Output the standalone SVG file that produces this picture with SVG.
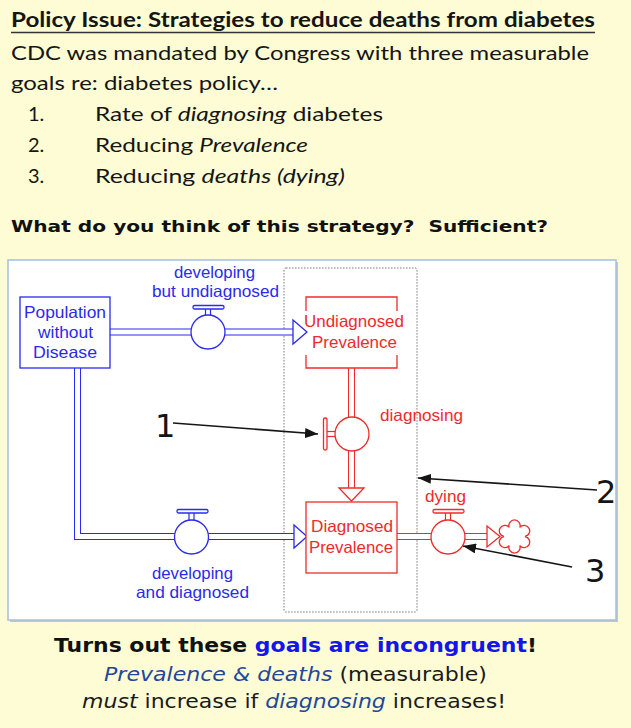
<svg xmlns="http://www.w3.org/2000/svg" width="631" height="728" viewBox="0 0 631 728">
<style>
.hdr{font-family:Lato,"Open Sans","Liberation Sans",sans-serif;fill:#151515}
.vb{font-family:"DejaVu Sans",Verdana,sans-serif}
.lbl{font-family:"Liberation Sans",Arial,sans-serif;font-size:16.5px}
.blue{fill:#2a2af0}
.red{fill:#f02a2a}
.bs{stroke:#2a2af0;fill:#fff;stroke-width:1.3}
.rs{stroke:#f02a2a;fill:#fff;stroke-width:1.3}
.pipeB{fill:none;stroke:#2a2af0;stroke-width:7}
.pipeR{fill:none;stroke:#f02a2a;stroke-width:7}
.pipeIn{fill:none;stroke:#fff;stroke-width:5}
.ann{stroke:#151515;stroke-width:1.6;fill:none}
.num{font-family:"DejaVu Sans",sans-serif;font-size:32px;fill:#151515}
</style>
<defs>
<marker id="ah" markerUnits="userSpaceOnUse" markerWidth="14" markerHeight="10" refX="13" refY="5" orient="auto">
<path d="M0,0 L13,5 L0,10 z" fill="#151515"/>
</marker>
</defs>
<rect x="0" y="0" width="631" height="728" fill="#fdfcd4"/>

<g id="header">
<text class="hdr" x="11" y="27" font-size="20" font-weight="bold" textLength="584" lengthAdjust="spacingAndGlyphs">Policy Issue: Strategies to reduce deaths from diabetes</text>
<line x1="11" y1="32.5" x2="595" y2="32.5" stroke="#333" stroke-width="1.3"/>
<text class="hdr" x="11" y="60" font-size="20" textLength="578" lengthAdjust="spacingAndGlyphs">CDC was mandated by Congress with three measurable</text>
<text class="hdr" x="11" y="90" font-size="20" textLength="267" lengthAdjust="spacingAndGlyphs">goals re: diabetes policy…</text>
<text class="hdr" x="28" y="121" font-size="20">1.</text>
<text class="hdr" x="95" y="121" font-size="20" textLength="288" lengthAdjust="spacingAndGlyphs">Rate of <tspan font-style="italic">diagnosing</tspan> diabetes</text>
<text class="hdr" x="28" y="152" font-size="20">2.</text>
<text class="hdr" x="95" y="152" font-size="20" textLength="213" lengthAdjust="spacingAndGlyphs">Reducing <tspan font-style="italic">Prevalence</tspan></text>
<text class="hdr" x="28" y="183" font-size="20">3.</text>
<text class="hdr" x="95" y="183" font-size="20" textLength="250" lengthAdjust="spacingAndGlyphs">Reducing <tspan font-style="italic">deaths (dying)</tspan></text>
<text class="vb" x="11" y="232" font-size="16.5" font-weight="bold" fill="#111" textLength="537" lengthAdjust="spacingAndGlyphs" xml:space="preserve">What do you think of this strategy?  Sufficient?</text>
</g>

<g id="panel">
<rect x="10" y="262" width="608" height="360" fill="#c9c9b4"/>
<rect x="8" y="260" width="608" height="360" fill="#fff" stroke="#a3c0e2" stroke-width="1.5"/>
<rect id="boundary" x="284" y="268" width="133" height="344" rx="2" fill="none" stroke="#777" stroke-width="1" stroke-dasharray="1.5 1.5"/>
</g>

<g id="connectors">
<path class="pipeB" d="M110,332 H293"/>
<path class="pipeIn" d="M110,332 H293"/>
<path class="pipeB" d="M77.5,368 V536.5 H294"/>
<path class="pipeIn" d="M77.5,368 V536.5 H294"/>
<path class="pipeR" d="M351.5,368 V488"/>
<path class="pipeIn" d="M351.5,368 V488"/>
<path class="pipeR" d="M397,536.5 H487"/>
<path class="pipeIn" d="M397,536.5 H487"/>
<polygon class="bs" points="293,320 307,332 293,344"/>
<polygon class="bs" points="294,525 307,536.5 294,548"/>
<polygon class="rs" points="339,488 364,488 351.5,501"/>
<polygon class="rs" points="487,526 500,536.5 487,547"/>
<line class="ann" x1="173" y1="423" x2="318" y2="434" marker-end="url(#ah)"/>
<line class="ann" x1="597" y1="490" x2="418" y2="478" marker-end="url(#ah)"/>
<line class="ann" x1="572" y1="567" x2="463" y2="546" marker-end="url(#ah)"/>
</g>

<g id="population">
<rect class="bs" x="20" y="297" width="90" height="71"/>
<text class="lbl blue" x="65" y="318" text-anchor="middle" textLength="82" lengthAdjust="spacingAndGlyphs">Population</text>
<text class="lbl blue" x="65.5" y="338" text-anchor="middle" textLength="55" lengthAdjust="spacingAndGlyphs">without</text>
<text class="lbl blue" x="65" y="358" text-anchor="middle" textLength="64" lengthAdjust="spacingAndGlyphs">Disease</text>
</g>

<g id="developing_undiagnosed">
<line x1="205.5" y1="309" x2="205.5" y2="315.5" stroke="#2a2af0" stroke-width="1.2"/>
<line x1="210.5" y1="309" x2="210.5" y2="315.5" stroke="#2a2af0" stroke-width="1.2"/>
<rect class="bs" x="193" y="305.5" width="31" height="3.5" rx="1.5"/>
<circle class="bs" cx="208" cy="332" r="17"/>
<text class="lbl blue" x="214.5" y="278" text-anchor="middle" textLength="81" lengthAdjust="spacingAndGlyphs">developing</text>
<text class="lbl blue" x="215.5" y="297" text-anchor="middle" textLength="127" lengthAdjust="spacingAndGlyphs">but undiagnosed</text>
</g>

<g id="developing_diagnosed">
<line x1="189" y1="513" x2="189" y2="520.5" stroke="#2a2af0" stroke-width="1.2"/>
<line x1="194" y1="513" x2="194" y2="520.5" stroke="#2a2af0" stroke-width="1.2"/>
<rect class="bs" x="177" y="509.5" width="31" height="3.5" rx="1.5"/>
<circle class="bs" cx="191.5" cy="537" r="17"/>
<text class="lbl blue" x="192.5" y="579" text-anchor="middle" textLength="81" lengthAdjust="spacingAndGlyphs">developing</text>
<text class="lbl blue" x="192.5" y="598" text-anchor="middle" textLength="113" lengthAdjust="spacingAndGlyphs">and diagnosed</text>
</g>

<g id="undiagnosed_prevalence">
<path d="M306,311 V297 H397 V311 M306,355 V368 H397 V355" fill="none" stroke="#f02a2a" stroke-width="1.3"/>
<text class="lbl red" x="354" y="327" text-anchor="middle" textLength="100" lengthAdjust="spacingAndGlyphs">Undiagnosed</text>
<text class="lbl red" x="354.5" y="348" text-anchor="middle" textLength="85" lengthAdjust="spacingAndGlyphs">Prevalence</text>
</g>

<g id="diagnosing">
<line x1="327" y1="431.5" x2="335.5" y2="431.5" stroke="#f02a2a" stroke-width="1.2"/>
<line x1="327" y1="436.5" x2="335.5" y2="436.5" stroke="#f02a2a" stroke-width="1.2"/>
<rect class="rs" x="323.5" y="418" width="3.5" height="32" rx="1.5"/>
<circle class="rs" cx="352" cy="434" r="17"/>
<text class="lbl red" x="380" y="421" textLength="83" lengthAdjust="spacingAndGlyphs">diagnosing</text>
</g>

<g id="diagnosed_prevalence">
<rect class="rs" x="306" y="502" width="91" height="71"/>
<text class="lbl red" x="352" y="532" text-anchor="middle" textLength="82" lengthAdjust="spacingAndGlyphs">Diagnosed</text>
<text class="lbl red" x="351" y="553" text-anchor="middle" textLength="84" lengthAdjust="spacingAndGlyphs">Prevalence</text>
</g>

<g id="dying">
<line x1="445.5" y1="513" x2="445.5" y2="520.5" stroke="#f02a2a" stroke-width="1.2"/>
<line x1="450.5" y1="513" x2="450.5" y2="520.5" stroke="#f02a2a" stroke-width="1.2"/>
<rect class="rs" x="433" y="509.5" width="31" height="3.5" rx="1.5"/>
<circle class="rs" cx="448" cy="537" r="17"/>
<text class="lbl red" x="445.5" y="502" text-anchor="middle" textLength="41" lengthAdjust="spacingAndGlyphs">dying</text>
</g>

<g id="cloud">
<path class="rs" d="M525,536.5 A5.6,5.6 0 1,1 519.75,545.59 A5.6,5.6 0 1,1 509.25,545.59 A5.6,5.6 0 1,1 504,536.5 A5.6,5.6 0 1,1 509.25,527.41 A5.6,5.6 0 1,1 519.75,527.41 A5.6,5.6 0 1,1 525,536.5 Z"/>
</g>

<g id="annotations">
<text class="num" x="155" y="437">1</text>
<text class="num" x="596" y="503">2</text>
<text class="num" x="585" y="582">3</text>
</g>

<g id="conclusion">
<text class="vb" x="54" y="652" font-size="19" font-weight="bold" fill="#111" textLength="483" lengthAdjust="spacingAndGlyphs">Turns out these <tspan fill="#1414ee">goals are incongruent</tspan>!</text>
<text class="vb" x="104" y="681" font-size="19" fill="#1a1a1a" textLength="383" lengthAdjust="spacingAndGlyphs"><tspan font-style="italic" fill="#23479b">Prevalence &amp; deaths</tspan> (measurable)</text>
<text class="vb" x="82" y="708" font-size="19" fill="#1a1a1a" textLength="424" lengthAdjust="spacingAndGlyphs"><tspan font-style="italic">must</tspan> increase if <tspan font-style="italic" fill="#23479b">diagnosing</tspan> increases!</text>
</g>
</svg>
